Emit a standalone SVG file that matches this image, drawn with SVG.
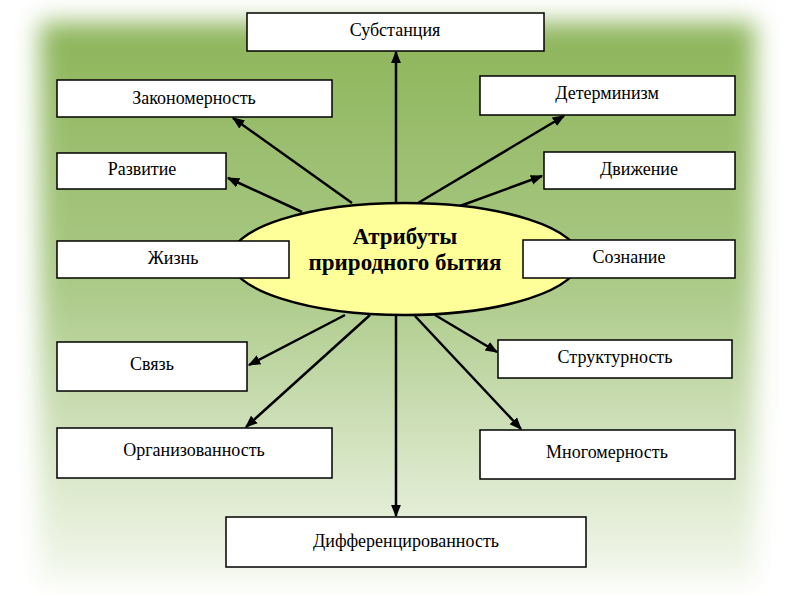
<svg xmlns="http://www.w3.org/2000/svg" width="794" height="595" viewBox="0 0 794 595">
<defs>
<linearGradient id="bg" x1="0" y1="0" x2="0" y2="1">
<stop offset="0" stop-color="#8db55a"/>
<stop offset="0.45" stop-color="#a9c884"/>
<stop offset="1" stop-color="#f4f8ee"/>
</linearGradient>
<filter id="blur" x="-10%" y="-10%" width="120%" height="120%"><feGaussianBlur stdDeviation="12"/></filter>
<marker id="ah" viewBox="0 0 10 10" refX="9" refY="5" markerWidth="5" markerHeight="5" orient="auto-start-reverse">
<path d="M0,1 L10,5 L0,9 z" fill="#000"/>
</marker>
<style>
.box{fill:#fff;stroke:#000;stroke-width:1.5}
.t{font-size:18px;text-anchor:middle;fill:#000}
.c{stroke:#000;stroke-width:2.5;fill:none;marker-end:url(#ah)}
</style>
</defs>
<rect width="794" height="595" fill="#fff"/>
<rect x="40" y="22" width="715" height="560" fill="url(#bg)" filter="url(#blur)"/>
<g id="connectors">
<line class="c" x1="396" y1="203" x2="396" y2="52"/>
<line class="c" x1="396" y1="315" x2="396" y2="516"/>
<line class="c" x1="352" y1="203" x2="233" y2="118"/>
<line class="c" x1="418" y1="203" x2="564" y2="116"/>
<line class="c" x1="302" y1="212" x2="228" y2="178"/>
<line class="c" x1="460" y1="206" x2="542" y2="176"/>
<line class="c" x1="345" y1="315" x2="249" y2="365"/>
<line class="c" x1="435" y1="315" x2="497" y2="352"/>
<line class="c" x1="370" y1="315" x2="246" y2="427"/>
<line class="c" x1="415" y1="316" x2="521" y2="429"/>
</g>
<g font-family="Liberation Serif, serif">
<g id="center"><ellipse cx="405" cy="259" rx="175" ry="56" fill="#ffff99" stroke="#000" stroke-width="2.5"/>
<text x="405" y="244" font-size="23" font-weight="bold" text-anchor="middle">Атрибуты</text>
<text x="405" y="270" font-size="23" font-weight="bold" text-anchor="middle">природного бытия</text></g>
<g id="n1"><rect class="box" x="247" y="13" width="297" height="38"/><text class="t" x="395" y="36">Субстанция</text></g>
<g id="n2"><rect class="box" x="57" y="80" width="275" height="37"/><text class="t" x="194" y="104">Закономерность</text></g>
<g id="n3"><rect class="box" x="480" y="76" width="255" height="39"/><text class="t" x="607" y="99">Детерминизм</text></g>
<g id="n4"><rect class="box" x="57" y="153" width="169" height="36"/><text class="t" x="142" y="175">Развитие</text></g>
<g id="n5"><rect class="box" x="544" y="152" width="191" height="37"/><text class="t" x="639" y="175">Движение</text></g>
<g id="n6"><rect class="box" x="57" y="241" width="232" height="37"/><text class="t" x="173" y="264">Жизнь</text></g>
<g id="n7"><rect class="box" x="523" y="240" width="212" height="38"/><text class="t" x="629" y="263">Сознание</text></g>
<g id="n8"><rect class="box" x="57" y="342" width="190" height="49"/><text class="t" x="152" y="370">Связь</text></g>
<g id="n9"><rect class="box" x="498" y="340" width="234" height="38"/><text class="t" x="615" y="363">Структурность</text></g>
<g id="n10"><rect class="box" x="57" y="428" width="275" height="50"/><text class="t" x="194" y="456">Организованность</text></g>
<g id="n11"><rect class="box" x="480" y="430" width="255" height="49"/><text class="t" x="607" y="458">Многомерность</text></g>
<g id="n12"><rect class="box" x="226" y="517" width="360" height="50"/><text class="t" x="406" y="547">Дифференцированность</text></g>
</g>
</svg>
